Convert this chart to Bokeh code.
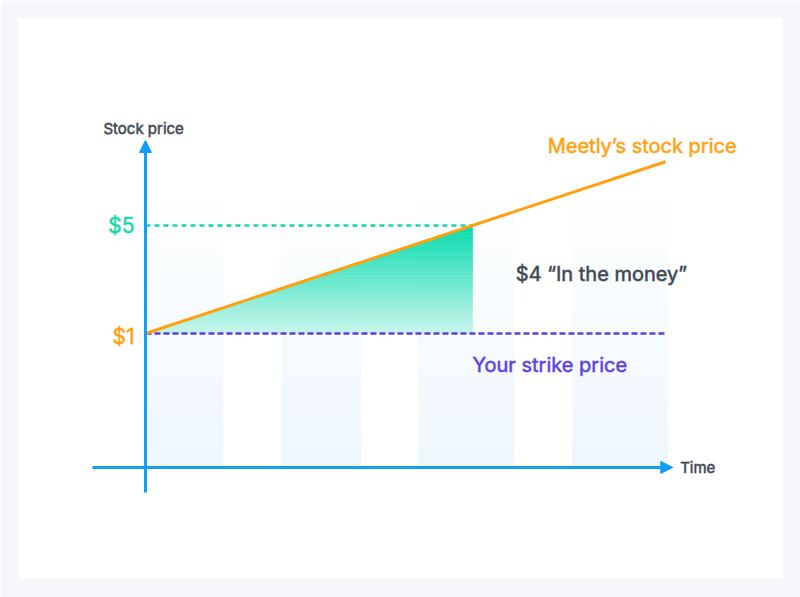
import numpy as np

from bokeh.core.properties import value
from bokeh.embed import file_html
from bokeh.models import Arrow, NormalHead, Range1d
from bokeh.plotting import figure
from bokeh.resources import INLINE

# schematic values: time on x, stock price on y
strike_price = 1
target_price = 5
line_time = [0, 6.36]
line_price = [1, 7.36]
cross_time = 4

# faint background columns (time spans)
band_left = [0.01, 1.66, 3.34, 5.22]
band_right = [0.95, 2.64, 4.51, 6.39]
band_top = 6.74

axis_y = -3.96      # where the time axis sits
axis_x = 0

ORANGE = "#ffa00f"
TEAL = "#17d6aa"
PURPLE = "#5a3fe3"
BLUE = "#139df4"
GREY = "#3d4450"
FONT = "Inter"


def mix(c0, c1, f):
    a = np.array([int(c0[i:i + 2], 16) for i in (1, 3, 5)])
    b = np.array([int(c1[i:i + 2], 16) for i in (1, 3, 5)])
    c = np.round(a + (b - a) * f).astype(int)
    return "#%02x%02x%02x" % tuple(c)


p = figure(width=800, height=597, x_range=Range1d(-1.553, 7.792),
           y_range=Range1d(-8.074, 12.667), output_backend="svg",
           toolbar_location=None, min_border_left=18, min_border_right=18,
           min_border_top=18, min_border_bottom=19,
           background_fill_color="white", border_fill_color="#f5f7fa",
           outline_line_color=None)
p.axis.visible = False
p.grid.visible = False

# background columns with a soft vertical fade
n = 40
edges = np.linspace(axis_y, band_top, n + 1)
for i in range(n):
    col = mix("#eef7fd", "#ffffff", i / (n - 1))
    p.quad(left=band_left, right=band_right, bottom=edges[i], top=edges[i + 1],
           fill_color=col, line_color=col, line_width=0.5)

# gradient triangle between strike price and stock price line
slope = (line_price[1] - line_price[0]) / (line_time[1] - line_time[0])
m = 60
ys = np.linspace(strike_price, target_price, m + 1)
xs_l = line_time[0] + (ys - line_price[0]) / slope
pxs, pys, cols = [], [], []
for i in range(m):
    pxs.append([xs_l[i], cross_time, cross_time, xs_l[i + 1]])
    pys.append([ys[i], ys[i], ys[i + 1], ys[i + 1]])
    cols.append(mix("#c8f5eb", "#08dbae", i / (m - 1)))
p.patches(pxs, pys, fill_color=cols, line_color=cols, line_width=0.6)

# reference lines
p.line([axis_x, cross_time], [target_price, target_price], line_color=TEAL,
       line_width=2.5, line_dash="5 4")
p.line([axis_x, line_time[1]], [strike_price, strike_price], line_color=PURPLE,
       line_width=2.5, line_dash="6 3")

# stock price line
p.line(line_time, line_price, line_color=ORANGE, line_width=3)

# axes drawn as arrows
p.add_layout(Arrow(end=NormalHead(size=12, fill_color=BLUE, line_color=BLUE),
                   x_start=axis_x, y_start=-4.89, x_end=axis_x, y_end=8.15,
                   line_color=BLUE, line_width=3))
p.add_layout(Arrow(end=NormalHead(size=12, fill_color=BLUE, line_color=BLUE),
                   x_start=-0.648, y_start=axis_y, x_end=6.45, y_end=axis_y,
                   line_color=BLUE, line_width=3))

f = value(FONT)
labels = [
    (-0.514, 8.59, "Stock price", "15px", GREY, "left"),
    (6.54, axis_y, "Time", "15px", GREY, "left"),
    (-0.135, target_price, "$5", "21px", TEAL, "right"),
    (-0.135, strike_price - 0.1, "$1", "21px", ORANGE, "right"),
    (4.92, 7.96, "Meetly\u2019s stock price", "20px", ORANGE, "left"),
    (4.53, 3.19, "$4 \u201cIn the money\u201d", "20px", GREY, "left"),
    (4.0, -0.185, "Your strike price", "20px", PURPLE, "left"),
]
for x, y, t, size, color, align in labels:
    p.text([x], [y], text=[t], text_font=f, text_font_size=size,
           text_color=color, text_outline_color=color + "80",
           text_baseline="middle", text_align=align)

open("out.html", "w").write(file_html(p, INLINE))
